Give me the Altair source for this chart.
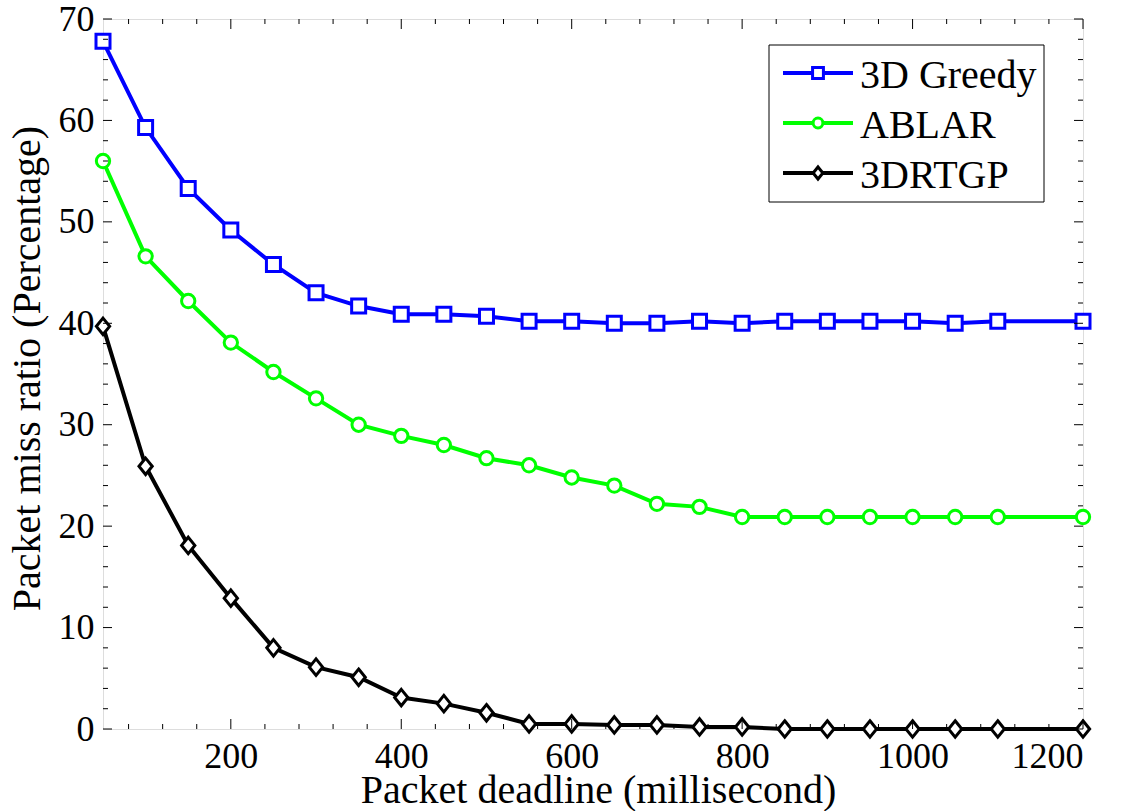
import altair as alt
import pandas as pd

# Packet deadline (ms) and packet miss ratio (%) for each routing protocol
deadline = [50, 100, 150, 200, 250, 300, 350, 400, 450, 500, 550, 600,
            650, 700, 750, 800, 850, 900, 950, 1000, 1050, 1100, 1200]
greedy_3d = [67.8, 59.3, 53.3, 49.2, 45.8, 43.0, 41.7, 40.9, 40.9, 40.7, 40.2, 40.2,
             40.0, 40.0, 40.2, 40.0, 40.2, 40.2, 40.2, 40.2, 40.0, 40.2, 40.2]
ablar = [56.0, 46.6, 42.2, 38.1, 35.2, 32.6, 30.0, 28.9, 28.0, 26.7, 26.0, 24.8,
         24.0, 22.2, 21.9, 20.9, 20.9, 20.9, 20.9, 20.9, 20.9, 20.9, 20.9]
rtgp_3d = [39.7, 25.9, 18.1, 12.9, 8.0, 6.1, 5.1, 3.1, 2.5, 1.6, 0.5, 0.5,
           0.4, 0.4, 0.2, 0.2, 0.0, 0.0, 0.0, 0.0, 0.0, 0.0, 0.0]

series_names = ["3D Greedy", "ABLAR", "3DRTGP"]
series_colors = ["#0000ff", "#00ff00", "#000000"]

x_major = [200, 400, 600, 800, 1000, 1200]
x_minor = [v for v in range(80, 1200, 40) if v % 200 != 0]
y_major = [0, 10, 20, 30, 40, 50, 60, 70]
y_minor = [v for v in range(2, 70, 2) if v % 10 != 0]

FONT = "Liberation Serif"
W, H = 980, 710
DIAMOND = "M0,-1.3L1.05,0L0,1.3L-1.05,0Z"
shape_range = ["square", "circle", DIAMOND]
size_range = [196, 160, 144]

rows = []
for name, vals in zip(series_names, [greedy_3d, ablar, rtgp_3d]):
    for d, v in zip(deadline, vals):
        rows.append({"deadline": d, "miss": v, "series": name})
df = pd.DataFrame(rows)

x_scale = alt.Scale(domain=[50, 1200], nice=False, zero=False)
y_scale = alt.Scale(domain=[0, 70], nice=False, zero=True)

x_axis = alt.Axis(values=x_major, format="d", grid=False, ticks=False, domain=False,
                  labelFont=FONT, labelFontSize=36, labelColor="black", labelPadding=10,
                  title="Packet deadline (millisecond)", titleFont=FONT, titleFontSize=40,
                  titleFontWeight="normal", titleColor="black",
                  titleX=495, titleY=73, titleBaseline="alphabetic", titleAlign="center")
y_axis = alt.Axis(values=y_major, format="d", grid=False, ticks=False, domain=False,
                  labelFont=FONT, labelFontSize=36, labelColor="black", labelPadding=9,
                  title="Packet miss ratio (Percentage)", titleFont=FONT, titleFontSize=40,
                  titleFontWeight="normal", titleColor="black",
                  titleX=-64, titleY=349, titleBaseline="alphabetic", titleAlign="center",
                  titleAngle=270)

color_enc = alt.Color("series:N", scale=alt.Scale(domain=series_names, range=series_colors), legend=None)
stroke_enc = alt.Stroke("series:N", scale=alt.Scale(domain=series_names, range=series_colors), legend=None)

lines = alt.Chart(df).mark_line(strokeWidth=4).encode(
    x=alt.X("deadline:Q", scale=x_scale, axis=x_axis),
    y=alt.Y("miss:Q", scale=y_scale, axis=y_axis),
    color=color_enc,
    detail="series:N",
)

points = alt.Chart(df).mark_point(filled=True, strokeWidth=3, opacity=1).encode(
    x=alt.X("deadline:Q", scale=x_scale),
    y=alt.Y("miss:Q", scale=y_scale),
    fill=alt.value("white"),
    stroke=stroke_enc,
    shape=alt.Shape("series:N", scale=alt.Scale(domain=series_names, range=shape_range), legend=None),
    size=alt.Size("series:N", scale=alt.Scale(domain=series_names, range=size_range), legend=None),
)

# Inward tick marks on all four sides of the box
def x_ticks(values, length):
    d = pd.DataFrame({"v": values})
    bottom = alt.Chart(d).mark_rule(color="black", strokeWidth=1).encode(
        x=alt.X("v:Q", scale=x_scale), y=alt.value(H), y2=alt.value(H - length))
    top = alt.Chart(d).mark_rule(color="black", strokeWidth=1).encode(
        x=alt.X("v:Q", scale=x_scale), y=alt.value(0), y2=alt.value(length))
    return [bottom, top]

def y_ticks(values, length):
    d = pd.DataFrame({"v": values})
    left = alt.Chart(d).mark_rule(color="black", strokeWidth=1).encode(
        y=alt.Y("v:Q", scale=y_scale), x=alt.value(0), x2=alt.value(length))
    right = alt.Chart(d).mark_rule(color="black", strokeWidth=1).encode(
        y=alt.Y("v:Q", scale=y_scale), x=alt.value(W), x2=alt.value(W - length))
    return [left, right]

ticks = x_ticks(x_major, 10) + x_ticks(x_minor, 5) + y_ticks(y_major, 9) + y_ticks(y_minor, 5)

# Legend box in the upper right corner
one = pd.DataFrame({"k": [0]})
legend_layers = [
    alt.Chart(one).mark_rect(fill="white", stroke="black", strokeWidth=1).encode(
        x=alt.value(666), x2=alt.value(941), y=alt.value(26), y2=alt.value(183))
]
row_y = [54, 104, 154]
for name, col, shp, sz, ry in zip(series_names, series_colors, shape_range, size_range, row_y):
    legend_layers.append(alt.Chart(one).mark_rule(strokeWidth=4, color=col).encode(
        x=alt.value(680), x2=alt.value(750), y=alt.value(ry)))
    legend_layers.append(alt.Chart(one).mark_point(filled=True, strokeWidth=3, opacity=1).encode(
        x=alt.value(715), y=alt.value(ry), fill=alt.value("white"), stroke=alt.value(col),
        shape=alt.value(shp), size=alt.value(sz * 0.6)))
    legend_layers.append(alt.Chart(one).mark_text(
        align="left", baseline="alphabetic", font=FONT, fontSize=40, color="black").encode(
        x=alt.value(757), y=alt.value(ry + 15), text=alt.value(name)))

chart = alt.layer(lines, points, *ticks, *legend_layers).properties(
    width=W, height=H,
    autosize=alt.AutoSizeParams(type="none"),
    padding={"left": 103, "top": 19, "right": 47, "bottom": 82},
).configure_view(stroke="black", strokeWidth=1.5).configure(background="white")

chart.save("out.html", embed_options={"renderer": "svg", "actions": False})
